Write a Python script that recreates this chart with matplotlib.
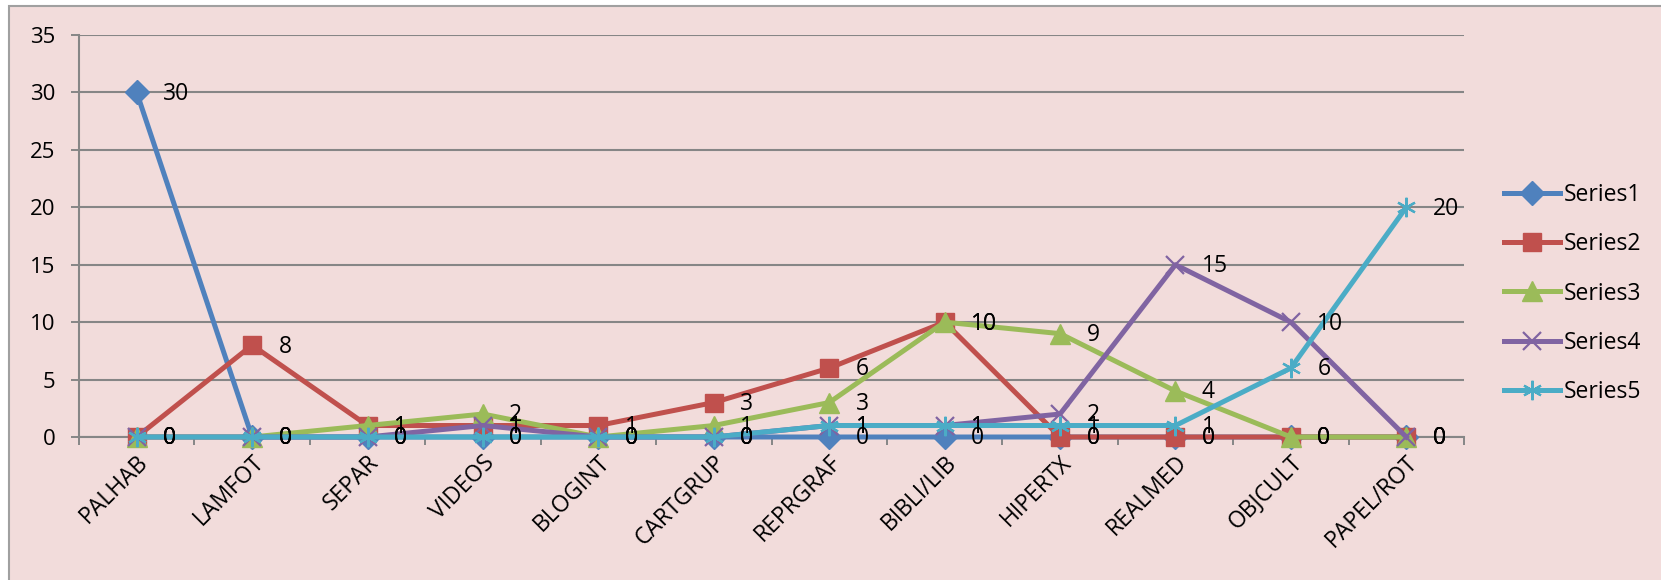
import matplotlib.pyplot as plt
from matplotlib.patches import Rectangle
from matplotlib.transforms import ScaledTranslation
import numpy as np

# data
categories = ["PALHAB", "LAMFOT", "SEPAR", "VIDEOS", "BLOGINT", "CARTGRUP",
              "REPRGRAF", "BIBLI/LIB", "HIPERTX", "REALMED", "OBJCULT", "PAPEL/ROT"]
series1 = [30, 0, 0, 0, 0, 0, 0, 0, 0, 0, 0, 0]
series2 = [0, 8, 1, 1, 1, 3, 6, 10, 0, 0, 0, 0]
series3 = [0, 0, 1, 2, 0, 1, 3, 10, 9, 4, 0, 0]
series4 = [0, 0, 0, 1, 0, 0, 1, 1, 2, 15, 10, 0]
series5 = [0, 0, 0, 0, 0, 0, 1, 1, 1, 1, 6, 20]
names = ["Series1", "Series2", "Series3", "Series4", "Series5"]

colors = ["#4F81BD", "#C0504D", "#9BBB59", "#8064A2", "#4BACC6"]
markers = ["D", "s", "^", "x", (6, 2, 0)]
msizes = [12, 12.5, 14, 12.5, 14]

plt.rcParams['font.family'] = ['Open Sans', 'DejaVu Sans']

fig = plt.figure(figsize=(16.61, 5.80), dpi=100)
fig.patch.set_facecolor("white")
# chart area (border only visible on left and top, the rest is cut off)
border = Rectangle((9/1661, -0.05), 1.1, 1 - 6/580 + 0.05, transform=fig.transFigure,
                   facecolor="#F2DCDB", edgecolor="#A0A0A0", linewidth=1.5, zorder=-10)
fig.add_artist(border)

ax = fig.add_axes([79/1661, 1 - 437/580, 1385/1661, 402/580])
ax.set_facecolor("#F2DCDB")

x = np.arange(len(categories))
allseries = [series1, series2, series3, series4, series5]
for i, s in enumerate(allseries):
    thin = markers[i] == "x" or isinstance(markers[i], tuple)
    ax.plot(x, s, color=colors[i], linewidth=3.6, marker=markers[i], markersize=msizes[i],
            markeredgewidth=1.6 if thin else 1, markeredgecolor=colors[i],
            label=names[i], zorder=3 + i, clip_on=False)

# data labels
for i, s in enumerate(allseries):
    for xi, v in zip(x, s):
        ax.annotate(str(v), (xi, v), xytext=(19, -1), textcoords="offset points",
                    ha="left", va="center", fontsize=16.5, color="black", zorder=10)

ax.set_xlim(-0.5, len(categories) - 0.5)
ax.set_ylim(0, 35)
ax.set_yticks(np.arange(0, 36, 5))
ax.yaxis.grid(True, color="#868686", linewidth=1.5)
ax.set_axisbelow(True)

ax.set_xticks(np.arange(-0.5, len(categories), 1))
ax.set_xticklabels([])
ax.set_xticks(x, minor=True)
ax.set_xticklabels(categories, minor=True, rotation=45, ha="right", va="center",
                   rotation_mode="anchor", fontsize=16.5)
ax.tick_params(axis="x", which="minor", length=0, pad=16)
ax.tick_params(axis="x", which="major", length=6, color="#868686", width=1.4)
ax.tick_params(axis="y", length=6, color="#868686", width=1.4, labelsize=16, pad=11)
shift = ScaledTranslation(8/100, 0, fig.dpi_scale_trans)
for lab in ax.get_xticklabels(minor=True):
    lab.set_transform(lab.get_transform() + shift)

for sp in ["top", "right"]:
    ax.spines[sp].set_visible(False)
for sp in ["left", "bottom"]:
    ax.spines[sp].set_color("#868686")
    ax.spines[sp].set_linewidth(1.5)

ax.legend(loc="center left", bbox_to_anchor=(1504/1661, 1 - 293.5/580),
          bbox_transform=fig.transFigure, borderaxespad=0, borderpad=0,
          frameon=False, fontsize=16.5, handlelength=2.45, labelspacing=1.1,
          handletextpad=0.15)

plt.savefig("out.png", dpi=100, facecolor=fig.get_facecolor())
